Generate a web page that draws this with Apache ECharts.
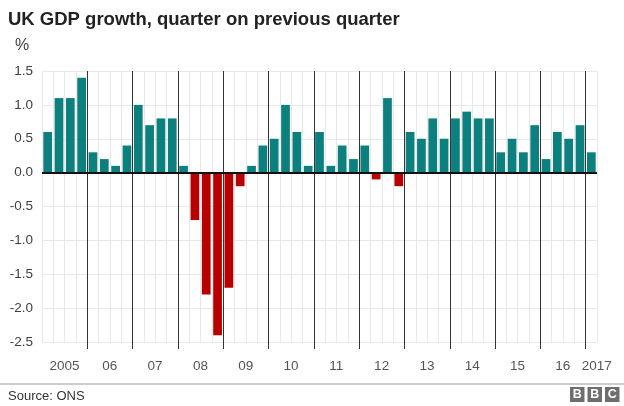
<!DOCTYPE html>
<html>
<head>
<meta charset="utf-8">
<script src="https://cdn.jsdelivr.net/npm/echarts@6/dist/echarts.min.js"></script>
<style>
  html, body { margin: 0; padding: 0; background: #fff; }
  #chart { width: 624px; height: 406px; }
</style>
</head>
<body>
<div id="chart"></div>
<script>
// quarters, 2005 Q1 .. 2017 Q1
var quarters = [
  '2005 Q1', '2005 Q2', '2005 Q3', '2005 Q4',
  '2006 Q1', '2006 Q2', '2006 Q3', '2006 Q4',
  '2007 Q1', '2007 Q2', '2007 Q3', '2007 Q4',
  '2008 Q1', '2008 Q2', '2008 Q3', '2008 Q4',
  '2009 Q1', '2009 Q2', '2009 Q3', '2009 Q4',
  '2010 Q1', '2010 Q2', '2010 Q3', '2010 Q4',
  '2011 Q1', '2011 Q2', '2011 Q3', '2011 Q4',
  '2012 Q1', '2012 Q2', '2012 Q3', '2012 Q4',
  '2013 Q1', '2013 Q2', '2013 Q3', '2013 Q4',
  '2014 Q1', '2014 Q2', '2014 Q3', '2014 Q4',
  '2015 Q1', '2015 Q2', '2015 Q3', '2015 Q4',
  '2016 Q1', '2016 Q2', '2016 Q3', '2016 Q4',
  '2017 Q1'
];

// % change on previous quarter
var growth = [
  0.6, 1.1, 1.1, 1.4,
  0.3, 0.2, 0.1, 0.4,
  1.0, 0.7, 0.8, 0.8,
  0.1, -0.7, -1.8, -2.4,
  -1.7, -0.2, 0.1, 0.4,
  0.5, 1.0, 0.6, 0.1,
  0.6, 0.1, 0.4, 0.2,
  0.4, -0.1, 1.1, -0.2,
  0.6, 0.5, 0.8, 0.5,
  0.8, 0.9, 0.8, 0.8,
  0.3, 0.5, 0.3, 0.7,
  0.2, 0.6, 0.5, 0.7,
  0.3
];

var yearLabels = ['2005', '06', '07', '08', '09', '10', '11', '12', '13', '14', '15', '16', '2017'];

// quarter index where each new year starts (2006 .. 2017)
var yearStarts = [4, 8, 12, 16, 20, 24, 28, 32, 36, 40, 44, 48];

var TEAL = '#0b807e';
var RED = '#b80000';
var FONT = 'Liberation Sans, Arial, Helvetica, sans-serif';

var chart = echarts.init(document.getElementById('chart'));

var option = {
  animation: false,
  textStyle: { fontFamily: FONT },
  title: {
    text: 'UK GDP growth, quarter on previous quarter',
    left: 3,
    top: 5,
    textStyle: { fontSize: 18.5, fontWeight: 'bold', color: '#222', fontFamily: FONT }
  },
  grid: {
    left: 42,
    right: 27,
    top: 71,
    bottom: 64
  },
  xAxis: [{
    type: 'category',
    data: quarters,
    axisLine: { show: false, onZero: false },
    axisTick: { show: false },
    axisLabel: {
      interval: function (i) { return i % 4 === 1 || i === quarters.length - 1; },
      formatter: function (v, i) { return yearLabels[Math.floor(i / 4)]; },
      color: '#555',
      fontSize: 13.5,
      margin: 17,
      padding: [0, 0, 0, 11]
    },
    splitLine: {
      show: true,
      interval: 0,
      lineStyle: { color: '#e8e8e8', width: 1 }
    }
  }, {
    // year boundaries, on the same quarter scale
    type: 'value',
    min: 0,
    max: quarters.length,
    position: 'bottom',
    axisLine: { show: false, onZero: false },
    axisLabel: { show: false },
    axisTick: {
      show: true,
      customValues: yearStarts,
      length: 7,
      lineStyle: { color: '#333', width: 1 }
    },
    splitLine: {
      show: true,
      lineStyle: { color: '#333', width: 1 }
    }
  }],
  yAxis: {
    type: 'value',
    min: -2.5,
    max: 1.5,
    interval: 0.5,
    axisLine: { show: false },
    axisTick: { show: false },
    axisLabel: {
      formatter: function (v) { return v.toFixed(1); },
      color: '#404040',
      fontSize: 13.5,
      margin: 9
    },
    splitLine: { lineStyle: { color: '#e8e8e8', width: 1 } }
  },
  series: [{
    type: 'bar',
    data: growth,
    barCategoryGap: '23%',
    itemStyle: {
      color: function (p) { return p.value < 0 ? RED : TEAL; }
    },
    markLine: {
      silent: true,
      symbol: 'none',
      label: { show: false },
      lineStyle: { color: '#111', width: 2, type: 'solid' },
      data: [{ yAxis: 0 }]
    }
  }],
  graphic: [
    {
      type: 'text',
      left: 15,
      top: 38,
      style: { text: '%', fontSize: 16, fill: '#404040', fontFamily: FONT }
    },
    {
      type: 'line',
      shape: { x1: 0, y1: 384, x2: 624, y2: 384 },
      style: { stroke: '#999', lineWidth: 1 }
    },
    {
      type: 'text',
      left: 8,
      top: 390,
      style: { text: 'Source: ONS', fontSize: 13, fill: '#333', fontFamily: FONT }
    },
    {
      type: 'group',
      left: 570,
      top: 387,
      children: ['B', 'B', 'C'].map(function (ch, k) {
        return {
          type: 'rect',
          shape: { x: k * 17.5, y: 0, width: 14.5, height: 15 },
          style: { fill: '#6e6e6e' },
          textContent: {
            style: { text: ch, fill: '#fff', fontSize: 12.5, fontWeight: 'bold', fontFamily: FONT }
          },
          textConfig: { position: 'inside' }
        };
      })
    }
  ]
};

chart.setOption(option);
</script>
</body>
</html>
